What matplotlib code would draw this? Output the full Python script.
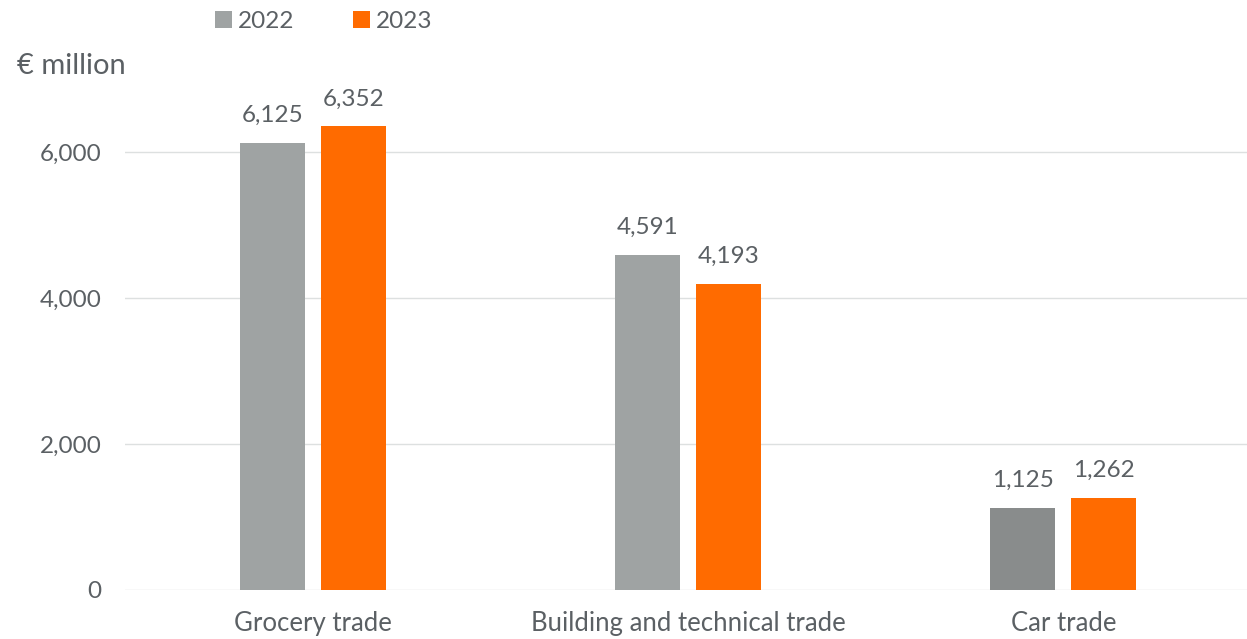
import matplotlib.pyplot as plt
import numpy as np

# Data
categories = ['Grocery trade', 'Building and technical trade', 'Car trade']
years = ['2022', '2023']
values_2022 = [6125, 4591, 1125]
values_2023 = [6352, 4193, 1262]

plt.rcParams['font.family'] = ['Lato', 'DejaVu Sans']
txt = '#5b6064'
grey = '#9fa3a3'
grey_dark = '#898c8c'
orange = '#ff6b00'

fig = plt.figure(figsize=(12.47, 6.39), dpi=100)
ax = fig.add_axes([125 / 1247, 49 / 639, 1126 / 1247, 511 / 639])

x = np.arange(len(categories))
w = 0.173
off = 0.108
cols_2022 = [grey, grey, grey_dark]
b1 = ax.bar(x - off, values_2022, w, color=cols_2022, label=years[0])
b2 = ax.bar(x + off, values_2023, w, color=orange, label=years[1])

for bars, vals in [(b1, values_2022), (b2, values_2023)]:
    for b, v in zip(bars, vals):
        ax.annotate(f'{v:,}', (b.get_x() + b.get_width() / 2, v),
                    xytext=(0, 12), textcoords='offset points',
                    ha='center', va='bottom', fontsize=17.5, color=txt)

ax.set_xlim(-0.5, 2.5)
ax.set_ylim(0, 7000)
ax.set_yticks([0, 2000, 4000, 6000])
ax.set_yticklabels([f'{t:,}' for t in [0, 2000, 4000, 6000]])
ax.set_xticks(x)
ax.set_xticklabels(categories, fontsize=18.5)
ax.tick_params(axis='both', length=0, colors=txt)
ax.tick_params(axis='y', pad=17, labelsize=17.5)
ax.tick_params(axis='x', pad=15)
ax.yaxis.grid(True, color='#dde0e0', linewidth=1)
ax.set_axisbelow(True)
for s in ax.spines.values():
    s.set_visible(False)

ax.text(-0.096, 1.0, '€ million', transform=ax.transAxes, fontsize=21,
        color=txt, ha='left', va='bottom')

fig.legend(loc='upper left', bbox_to_anchor=(200 / 1247, 1.005), ncol=2,
           frameon=False, fontsize=17.5, labelcolor=txt, handlelength=0.7,
           handleheight=0.7, handletextpad=0.25, columnspacing=2.4,
           borderaxespad=0.2)

fig.savefig('out.png', dpi=100)
